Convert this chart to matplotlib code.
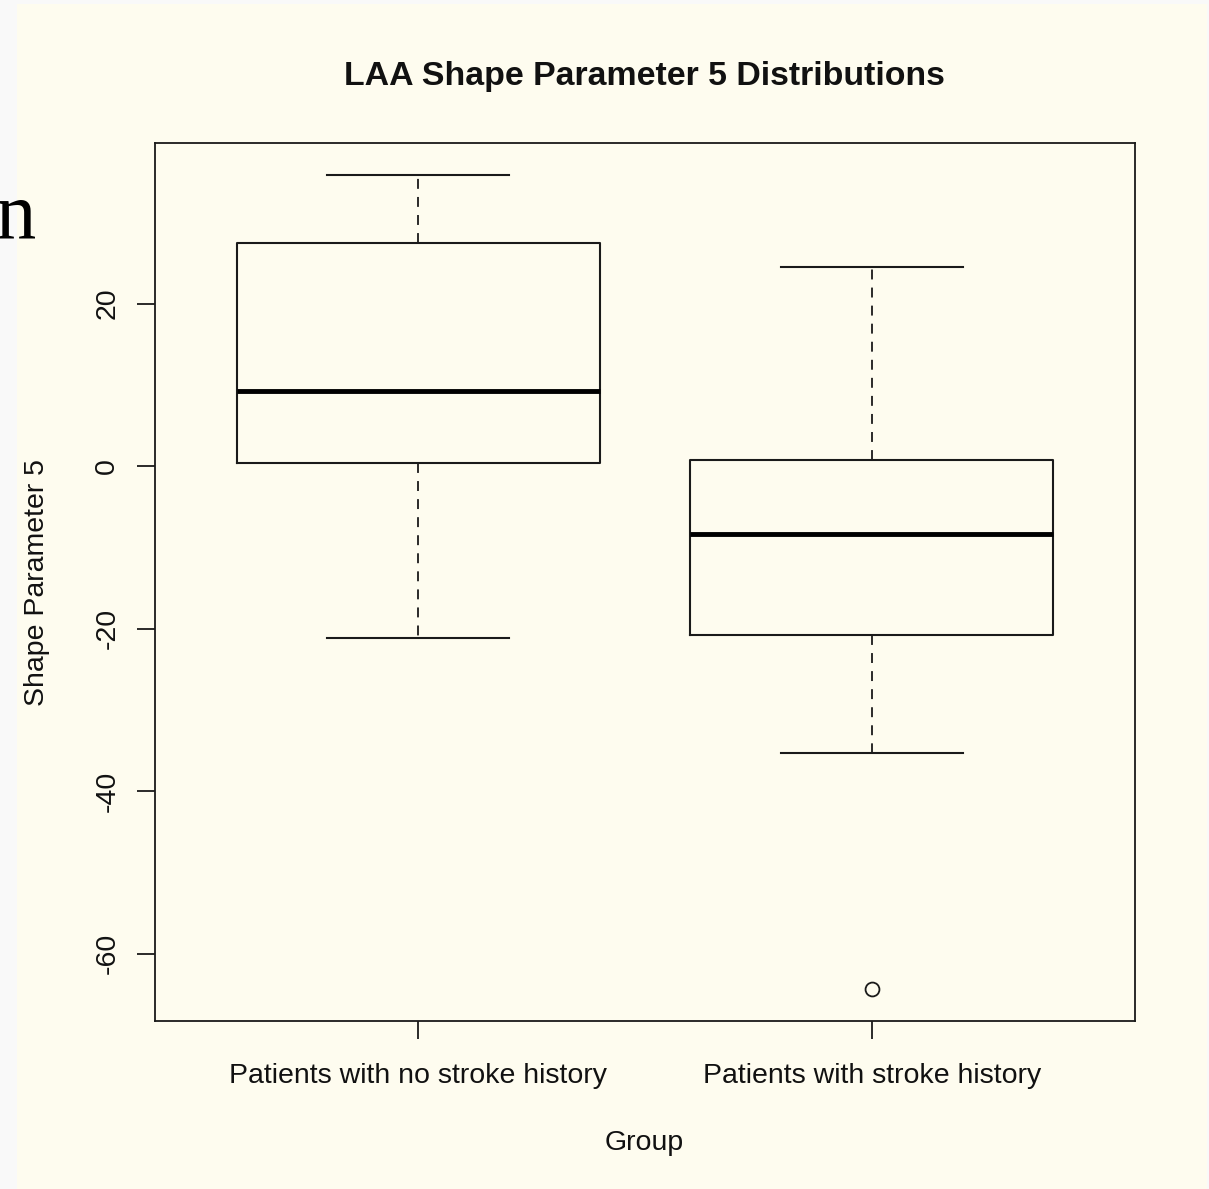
import matplotlib
matplotlib.use('Agg')
import matplotlib.pyplot as plt
from matplotlib.patches import Rectangle

# values
groups = ['Patients with no stroke history', 'Patients with stroke history']
whisker_low = [-21.1, -35.3]
quart_low = [0.4, -20.8]
medians = [9.3, -8.4]
quart_high = [27.5, 0.7]
whisker_high = [35.8, 24.5]
outliers = [[], [-64.3]]
yticks = [-60, -40, -20, 0, 20]

W, H = 1209, 1189
CREAM = '#fefcef'
FS = 20.5

plt.rcParams['font.family'] = ['Liberation Sans', 'DejaVu Sans']

fig = plt.figure(figsize=(W / 100, H / 100), dpi=100, facecolor='#f9f9f9')
# the cream window panel of the screenshot
fig.patches.append(Rectangle((17 / W, 0), (1207 - 17) / W, 1 - 4 / H,
                             transform=fig.transFigure, facecolor=CREAM,
                             edgecolor='none', zorder=-5))

ax = fig.add_axes([155 / W, 1 - 1021 / H, (1135 - 155) / W, (1021 - 143) / H])
ax.set_facecolor(CREAM)
ax.set_zorder(2)

stats = []
for i, g in enumerate(groups):
    stats.append({'label': g, 'whislo': whisker_low[i], 'q1': quart_low[i],
                  'med': medians[i], 'q3': quart_high[i],
                  'whishi': whisker_high[i], 'fliers': outliers[i]})

line_col = '#1a1a1a'
ax.bxp(stats, positions=[1, 2], widths=0.8, capwidths=0.4,
       boxprops={'color': line_col, 'linewidth': 1.5},
       medianprops={'color': 'black', 'linewidth': 3.5, 'solid_capstyle': 'butt'},
       whiskerprops={'color': line_col, 'linewidth': 1.3, 'linestyle': (0, (5.5, 4.5))},
       capprops={'color': line_col, 'linewidth': 1.5},
       flierprops={'marker': 'o', 'markersize': 10, 'markerfacecolor': 'none',
                   'markeredgecolor': line_col, 'markeredgewidth': 1.3})

ax.set_xlim(0.42, 2.58)
ax.set_ylim(-68.27, 39.76)
ax.set_yticks(yticks)
ax.set_yticklabels([str(t) for t in yticks])
for s in ax.spines.values():
    s.set_linewidth(1.3)
    s.set_color(line_col)

ax.tick_params(axis='both', direction='out', length=13, width=1.3, color=line_col,
               labelsize=FS, labelcolor='#111111')
ax.tick_params(axis='x', pad=17)
ax.tick_params(axis='y', pad=12, labelrotation=90)
for lab in ax.get_yticklabels():
    lab.set_va('center')

fig.text(644 / W, 1 - 76 / H, 'LAA Shape Parameter 5 Distributions',
         ha='center', va='center', fontsize=24.4, fontweight='bold', color='#111111')
fig.text(644 / W, 1 - 1143 / H, 'Group', ha='center', va='center',
         fontsize=FS, color='#111111')
fig.text(37 / W, 1 - 582 / H, 'Shape Parameter 5', ha='center', va='center',
         rotation=90, fontsize=FS, color='#111111')

# cut-off serif letter at the left edge of the screenshot
fig.text(35 / W, 1 - 237 / H, 'n', ha='right', va='baseline',
         fontsize=58, family='Liberation Serif', color='black')

fig.savefig('out.png', dpi=100, facecolor=fig.get_facecolor())
